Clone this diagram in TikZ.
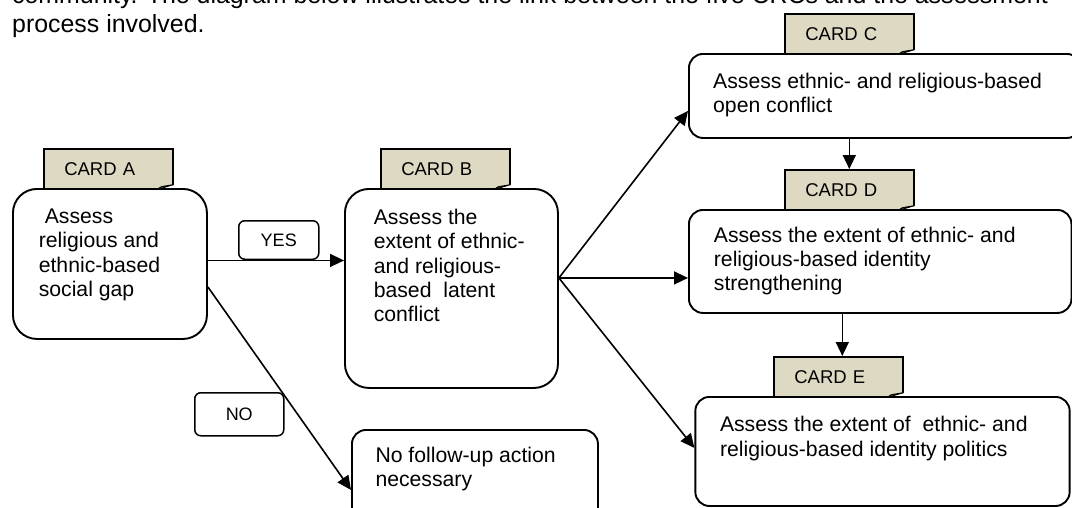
\documentclass[tikz,border=0pt]{standalone}
\usepackage{fontspec}
\setmainfont{Liberation Sans}
\usetikzlibrary{arrows.meta}

\definecolor{cardtan}{RGB}{221,217,195}
\definecolor{foldgray}{RGB}{150,146,128}

\newcommand{\boxfont}{\fontsize{21.2}{24.4}\selectfont}
\newcommand{\cardfont}{\fontsize{18.5}{22}\selectfont}
\newcommand{\tagfont}{\fontsize{18}{22}\selectfont}
\newcommand{\cardfold}[1]{%
	\fill[white] ([xshift=1.2pt,yshift=-1pt]#1.south east) -- ([xshift=1.2pt,yshift=5pt]#1.south east) -- ([xshift=-18pt,yshift=-1pt]#1.south east) -- cycle;
	\filldraw[fill=foldgray, line width=0.9pt] ([yshift=5pt]#1.south east) -- ([xshift=-17pt]#1.south east) -- ([xshift=-12pt,yshift=3pt]#1.south east) -- cycle;
}

\tikzset{
	box/.style={draw, line width=1.9pt, fill=white, rounded corners=14pt, anchor=north west, inner sep=0pt},
	bigbox/.style={box, rounded corners=24pt},
	tab/.style={draw, line width=1.6pt, fill=cardtan, anchor=north west, inner xsep=20.5pt, inner ysep=0pt, minimum height=40pt, text width=88pt, align=left, font=\cardfont},
	tag/.style={draw, line width=1.5pt, rounded corners=6pt, anchor=north west, inner sep=0pt, font=\tagfont},
	txt/.style={anchor=north west, inner sep=0pt, align=left, font=\boxfont},
	arr/.style={line width=1.6pt, -{Triangle[length=14pt,width=13pt]}},
}

\begin{document}
\begin{tikzpicture}[x=1pt,y=-1pt]
	\useasboundingbox (0,0) rectangle (1072,507);

	%intro
	\node[anchor=north west, inner sep=0pt, align=left, font=\fontsize{24.9}{28.6}\selectfont] (intro) at (12,-14.8)
		{community. The diagram below illustrates the link between the five CRCs and the assessment\\process involved.};

	%cards
	\node[tab] (tabA) at (43,148) 	{CARD A};
	\node[tab] (tabB) at (380,148) 	{CARD B};
	\node[tab] (tabC) at (784,13) 	{CARD C};
	\node[tab] (tabD) at (784,169) 	{CARD D};
	\node[tab] (tabE) at (773,356) 	{CARD E};
	\cardfold{tabA}
	\cardfold{tabB}
	\cardfold{tabC}
	\cardfold{tabD}
	\cardfold{tabE}

	%boxes
	\node[bigbox, minimum width=194, minimum height=150] (boxA) at (12,188) 	{};
	\node[bigbox, minimum width=213, minimum height=199] (boxB) at (344,188) 	{};
	\node[box, minimum width=392, minimum height=84] (boxC) at (688,53) 		{};
	\node[box, minimum width=382.5, minimum height=103] (boxD) at (688,209) 	{};
	\node[box, minimum width=374.3, minimum height=109] (boxE) at (694.4,396) 	{};
	\node[box, minimum width=246, minimum height=95] (boxN) at (351,429) 		{};
	\node[tag, minimum width=80, minimum height=38.5] (yes) at (238,220) 		{YES};
	\node[tag, minimum width=89, minimum height=43] (no) at (194,392) 			{NO};

	%texts
	\node[txt] (txtA) at (38.6,208.8) 	{\hspace*{6pt}Assess\\religious and\\ethnic-based\\social gap};
	\node[txt] (txtB) at (373.6,208.8) 	{Assess the\\extent of ethnic-\\and religious-\\based\ \ latent\\conflict};
	\node[txt] (txtC) at (713,72.8) 	{Assess ethnic- and religious-based\\open conflict};
	\node[txt] (txtD) at (713.7,226.5) 	{Assess the extent of ethnic- and\\religious-based identity\\strengthening};
	\node[txt] (txtE) at (719.8,416.3) 	{Assess the extent of\ \ ethnic- and\\religious-based identity politics};
	\node[txt] (txtN) at (375.3,446.8) 	{No follow-up action\\necessary};

	%arrows
	\coordinate (yesA) at ([yshift=3.5pt]boxA.east);
	\coordinate (noA) at ([yshift=-23pt]boxA.east);
	\coordinate (fan) at ([yshift=10.5pt]boxB.east);
	\draw[arr] (yesA) -- (yesA -| boxB.west);
	\draw[arr] (noA) -- ([yshift=-12.5pt]boxN.west);
	\draw[arr] (fan) -- ([yshift=-15pt]boxC.west);
	\draw[arr] (fan) -- (fan -| boxD.west);
	\draw[arr] (fan) -- ([yshift=3.5pt]boxE.west);
	\draw[arr] (tabD.north |- boxC.south) -- (tabD.north);
	\draw[arr] ([xshift=4pt]tabE.north |- boxD.south) -- ([xshift=4pt]tabE.north);
\end{tikzpicture}
\end{document}
